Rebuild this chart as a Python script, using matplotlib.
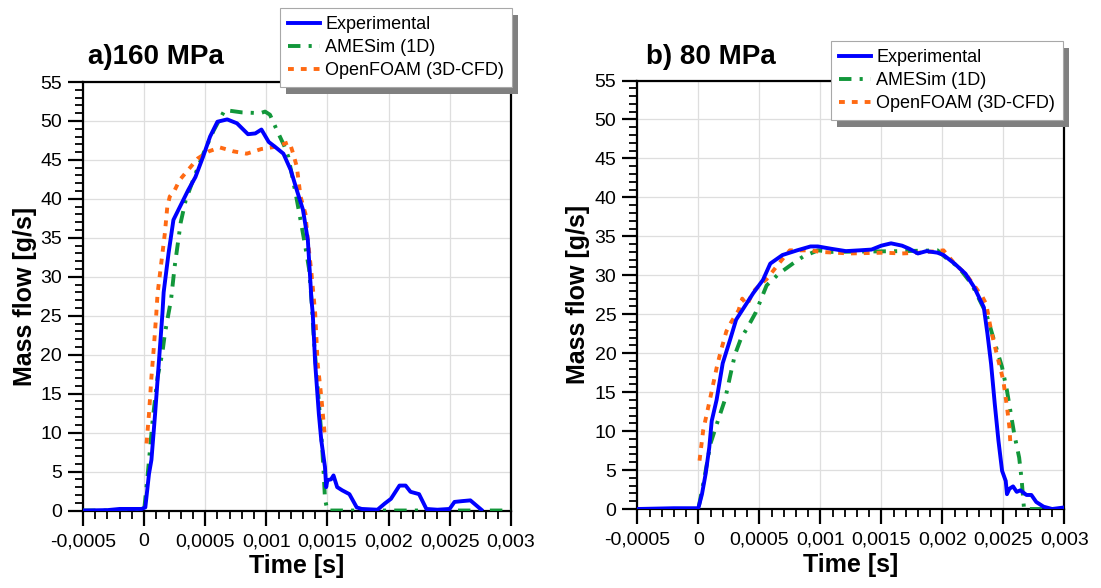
import matplotlib
matplotlib.use("Agg")
import matplotlib.pyplot as plt
from matplotlib.ticker import MultipleLocator
from matplotlib.patches import Rectangle

plt.rcParams['font.family'] = ['Liberation Sans', 'DejaVu Sans']

# ---------------- data ----------------
x_ticks = [-0.0005, 0.0, 0.0005, 0.001, 0.0015, 0.002, 0.0025, 0.003]
x_tick_labels = ['-0,0005', '0', '0,0005', '0,001', '0,0015', '0,002', '0,0025', '0,003']
y_ticks = [0, 5, 10, 15, 20, 25, 30, 35, 40, 45, 50, 55]
y_tick_labels = ['0', '5', '10', '15', '20', '25', '30', '35', '40', '45', '50', '55']

series_names = ['Experimental', 'AMESim (1D)', 'OpenFOAM (3D-CFD)']
panel_titles = ['a)160 MPa', 'b) 80 MPa']

# 160 MPa
exp160_t = [-0.0005, -0.0003, -0.0002, -0.00002, 0.00001, 0.00004, 0.00006, 0.00009, 0.00011,
            0.00015, 0.00016, 0.0002, 0.00024, 0.0003, 0.00036, 0.00042, 0.00048, 0.00054,
            0.0006, 0.00068, 0.00076, 0.00085, 0.00091, 0.00096, 0.00102, 0.00107, 0.00114,
            0.0012, 0.00125, 0.0013, 0.00134, 0.00137, 0.00138, 0.0014, 0.00143, 0.00145,
            0.00148, 0.00149, 0.0015, 0.00153, 0.00155, 0.00158, 0.00162, 0.00168, 0.00174,
            0.00178, 0.00191, 0.00197, 0.00202, 0.00209, 0.00214, 0.00218, 0.00225, 0.00231,
            0.0024, 0.0025, 0.00254, 0.0026, 0.00267, 0.00276]
exp160_v = [0, 0.05, 0.2, 0.2, 0.4, 4.7, 6.5, 12.4, 16.7,
            25.3, 28, 33, 37.3, 39.2, 41.1, 42.8, 45.3, 48,
            49.9, 50.2, 49.7, 48.3, 48.4, 48.9, 47.3, 46.7, 45.8,
            43.7, 41.1, 38.6, 34.7, 27, 25.3, 18.9, 12.4, 9,
            5.6, 3.0, 3.9, 4.0, 4.5, 3.0, 2.6, 2.1, 0.4,
            0.2, 0.1, 0.9, 1.5, 3.2, 3.2, 2.4, 2.1, 0.2,
            0.1, 0.2, 1.1, 1.2, 1.3, 0.1]

ames160_t = [-0.0005, 0.0, 0.00003, 0.00007, 0.00011, 0.00015, 0.00017, 0.0002, 0.00022, 0.00025,
             0.0003, 0.00034, 0.00041, 0.00049, 0.00057, 0.00066, 0.0008, 0.00095, 0.00099,
             0.00103, 0.00109, 0.00115, 0.00118, 0.00124, 0.00128, 0.00132, 0.00135, 0.00137,
             0.00139, 0.00142, 0.00145, 0.00147, 0.00148, 0.0015, 0.003]
ames160_v = [0, 0, 4.7, 11.6, 17.1, 20.3, 22.7, 25.3, 27, 31.3,
             37, 39.8, 42.8, 46, 48.8, 51.4, 51.1, 51.0, 51.2,
             50.8, 48.7, 46.7, 45.4, 40.7, 37.3, 33.8, 31, 27,
             21.8, 15.9, 9.9, 4.7, 1.5, 0, 0]

foam160_t = [0.00002, 0.00004, 0.00006, 0.00008, 0.0001, 0.00011, 0.00015, 0.00017, 0.00019,
             0.00021, 0.00025, 0.00029, 0.00037, 0.00044, 0.00053, 0.00062, 0.00073, 0.00084,
             0.00096, 0.00108, 0.00119, 0.00122, 0.00125, 0.00128, 0.00132, 0.00134, 0.00137,
             0.0014, 0.00142, 0.00145, 0.00148]
foam160_v = [8.6, 12.4, 17.1, 21, 25.3, 27.8, 33, 35.6, 39,
             40.3, 41.1, 42.4, 43.9, 45.2, 46.1, 46.6, 46.1, 45.8,
             46.4, 46.7, 47.3, 45.8, 44.1, 40.3, 38.1, 34.7, 30.4,
             25.3, 18.9, 14.6, 9.4]

# 80 MPa
exp80_t = [-0.0005, -0.0002, 0.0, 0.00003, 0.00006, 0.00009, 0.00011, 0.00015, 0.0002, 0.00026,
           0.00031, 0.00038, 0.00045, 0.00053, 0.00059, 0.00069, 0.00081, 0.00092, 0.00098,
           0.00109, 0.00121, 0.00132, 0.00142, 0.0015, 0.00158, 0.00167, 0.00173, 0.0018,
           0.00187, 0.00196, 0.00201, 0.0021, 0.00219, 0.00226, 0.0023, 0.00234, 0.00237,
           0.0024, 0.00243, 0.00246, 0.00249, 0.00252, 0.00253, 0.00255, 0.00258, 0.00261,
           0.00264, 0.00269, 0.00273, 0.00277, 0.00283, 0.0029, 0.003]
exp80_v = [0, 0.1, 0.1, 1.9, 4.5, 7.9, 11.3, 14.0, 18.7, 21.7,
           24.3, 26.0, 27.7, 29.4, 31.5, 32.6, 33.2, 33.7, 33.7,
           33.4, 33.1, 33.2, 33.3, 33.8, 34.1, 33.8, 33.4, 32.8,
           33.1, 32.9, 32.6, 31.5, 30.2, 28.5, 27.2, 25.9, 22.5,
           18.6, 13.5, 8.8, 4.9, 3.6, 1.9, 2.6, 2.9, 2.2,
           2.4, 1.8, 1.8, 0.9, 0.3, 0.0, 0.2]

ames80_t = [-0.0005, 0.0, 0.00005, 0.0001, 0.00016, 0.00022, 0.00026, 0.0003, 0.00035, 0.0004,
            0.00047, 0.00056, 0.00066, 0.00081, 0.00086, 0.00098, 0.00109, 0.00167, 0.00196,
            0.00204, 0.00213, 0.00224, 0.00236, 0.00244, 0.00249, 0.00253, 0.00259, 0.00263,
            0.00265, 0.00267, 0.003]
ames80_v = [0, 0, 4, 8.4, 11.3, 14.1, 17.0, 19.8, 21.9, 23.2,
            25.2, 28.7, 30.2, 31.9, 32.4, 33.2, 33.0, 33.1, 33.2,
            32.1, 31.1, 28.9, 25.1, 20.8, 18.2, 15.2, 9.6, 6.6,
            3.8, 0, 0]

foam80_t = [0.00001, 0.00004, 0.0001, 0.00015, 0.00018, 0.00023, 0.00027, 0.00033, 0.00036,
            0.0004, 0.00045, 0.00052, 0.00056, 0.00066, 0.00075, 0.00092, 0.001, 0.00124,
            0.00152, 0.00167, 0.00181, 0.00196, 0.00201, 0.0021, 0.00219, 0.00227, 0.00233,
            0.00236, 0.0024, 0.00244, 0.0025, 0.00253, 0.00255, 0.00256]
foam80_v = [6.2, 10.1, 14.4, 18.1, 20.0, 22.8, 24.0, 25.5, 27.0,
            26.2, 27.9, 29.0, 29.5, 31.5, 33.2, 33.2, 33.0, 32.8,
            32.9, 32.8, 32.9, 33.1, 33.2, 31.5, 30.2, 28.5, 27.2,
            26.3, 22.9, 20.3, 16.5, 13.1, 10.5, 7.9]

panels = [
    (exp160_t, exp160_v, ames160_t, ames160_v, foam160_t, foam160_v),
    (exp80_t, exp80_v, ames80_t, ames80_v, foam80_t, foam80_v),
]

# ---------------- style ----------------
W, H = 1101, 588
BLUE = '#0000FF'
GREEN = '#12973A'
ORANGE = '#FF6A13'
LW = 2.8
green_ls = (0, (3.2, 2.1, 0.8, 2.1))
orange_ls = (0, (1.5, 1.8))

fig = plt.figure(figsize=(W / 100, H / 100), dpi=100)
axes_px = [(83, 82, 510.7, 510.5), (637.3, 80.5, 1064.3, 509)]
legend_px = [(280, 8), (831, 41)]
title_px = [(88, 64), (646, 63.5)]

legs = []
for i, (et, ev, at, av, ft, fv) in enumerate(panels):
    x0, y0, x1, y1 = axes_px[i]
    ax = fig.add_axes([x0 / W, 1 - y1 / H, (x1 - x0) / W, (y1 - y0) / H])
    l1, = ax.plot(et, ev, color=BLUE, lw=LW, solid_joinstyle='round', zorder=3)
    l2, = ax.plot(at, av, color=GREEN, lw=LW, linestyle=green_ls, zorder=2.8)
    l3, = ax.plot(ft, fv, color=ORANGE, lw=LW, linestyle=orange_ls, zorder=2.9)

    ax.set_xlim(-0.0005, 0.003)
    ax.set_ylim(0, 55)
    ax.set_xticks(x_ticks)
    ax.set_xticklabels(x_tick_labels)
    ax.set_yticks(y_ticks)
    ax.set_yticklabels(y_tick_labels)
    ax.xaxis.set_minor_locator(MultipleLocator(0.0001))
    ax.yaxis.set_minor_locator(MultipleLocator(1))
    ax.tick_params(which='major', direction='out', length=10.5, width=1.6, labelsize=14,
                   color='black', top=False, right=False)
    ax.tick_params(which='minor', direction='out', length=6, width=1.3,
                   color='black', top=False, right=False)
    ax.tick_params(axis='x', which='major', pad=6.0)
    ax.tick_params(axis='y', which='major', pad=4.5)
    for s in ax.spines.values():
        s.set_linewidth(1.6)
        s.set_color('black')
    ax.grid(True, which='major', color='#dedede', lw=0.9)
    ax.set_axisbelow(True)

    ax.set_xlabel('Time [s]', fontsize=18, fontweight='bold')
    ax.set_ylabel('Mass flow [g/s]', fontsize=18, fontweight='bold')
    ax.xaxis.set_label_coords(0.5, -0.102)
    ax.yaxis.set_label_coords(-0.107 if i == 0 else -0.110, 0.5)

    lx, ly = legend_px[i]
    leg = ax.legend([l1, l2, l3], series_names, loc='upper left',
                    bbox_to_anchor=(lx / W, 1 - ly / H), bbox_transform=fig.transFigure,
                    borderaxespad=0, fontsize=13, frameon=True, fancybox=False,
                    edgecolor='#a8a8a8', framealpha=1, borderpad=0.45,
                    handlelength=1.75, handletextpad=0.3, labelspacing=0.33)
    leg.get_frame().set_linewidth(0.8)
    legs.append((ax, leg))

    tx, ty = title_px[i]
    fig.text(tx / W, 1 - ty / H, panel_titles[i], fontsize=20, fontweight='bold',
             va='baseline', ha='left')

# manual legend shadows
fig.canvas.draw()
r = fig.canvas.get_renderer()
inv = fig.transFigure.inverted()
for ax, leg in legs:
    bb = leg.get_window_extent(r)
    (fx0, fy0) = inv.transform((bb.x0 + 6, bb.y0 - 7))
    (fx1, fy1) = inv.transform((bb.x1 + 6, bb.y1 - 7))
    rect = Rectangle((fx0, fy0), fx1 - fx0, fy1 - fy0, transform=fig.transFigure,
                     facecolor='#808080', edgecolor='none', clip_on=False, zorder=4.5)
    ax.add_patch(rect)

fig.savefig('out.png', dpi=100)
